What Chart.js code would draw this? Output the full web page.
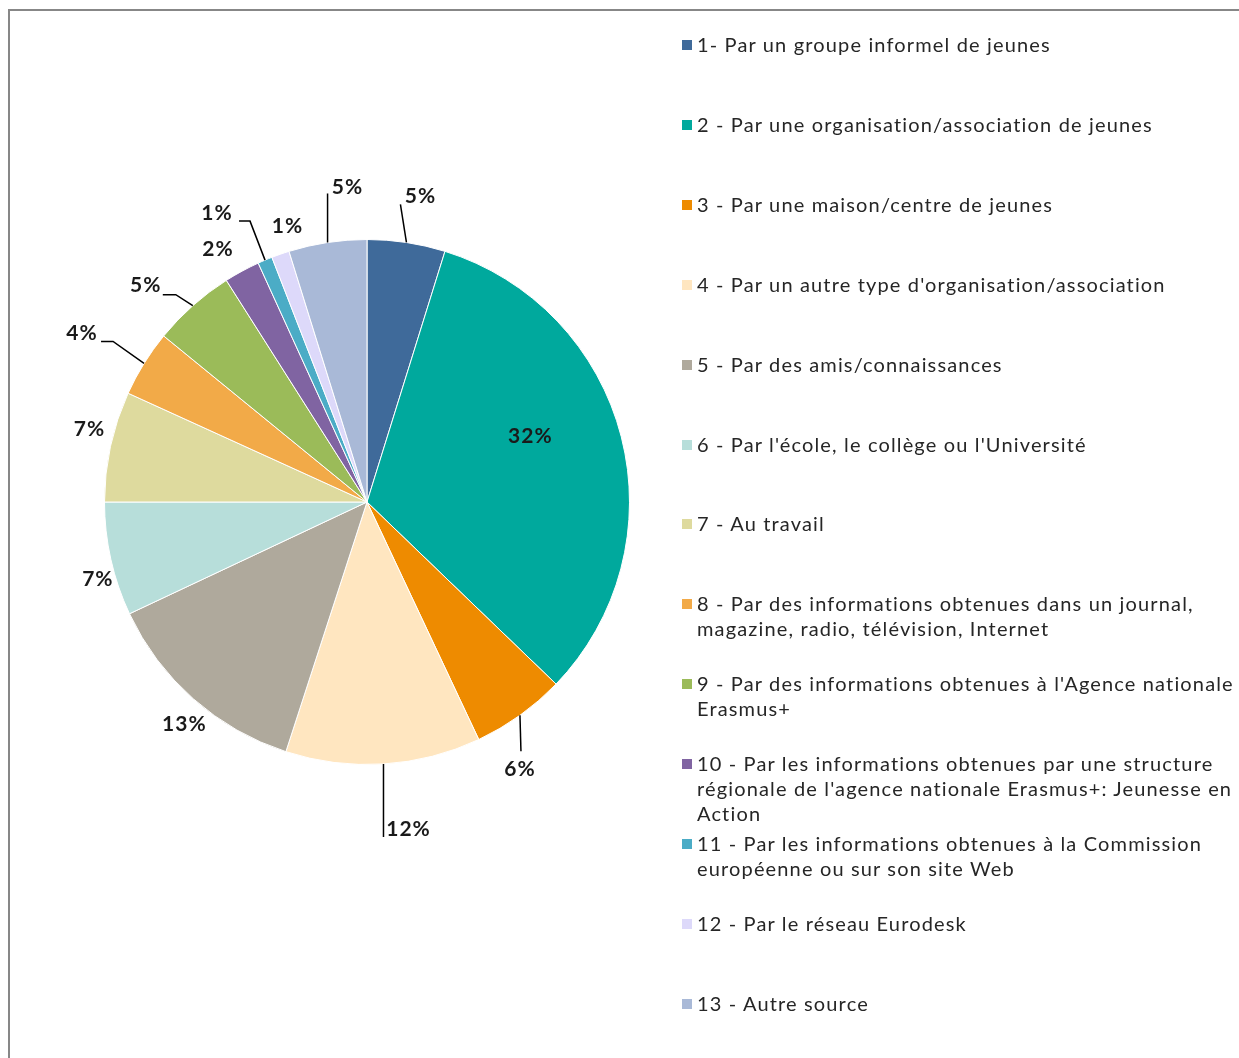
<!DOCTYPE html>
<html>
<head>
<meta charset="utf-8">
<script src="https://cdn.jsdelivr.net/npm/chart.js@4"></script>
<style>
  body { margin: 0; background: #fff; font-family: Lato, "Open Sans", sans-serif; }
  #frame { position: absolute; left: 8px; top: 9px; width: 1231px; height: 1049px;
           border-top: 2px solid #878787; border-left: 2px solid #878787; }
  #wrap { position: absolute; left: 0; top: 0; width: 1239px; height: 1058px; }
  #legend { position: absolute; left: 0; top: 0; }
  .item { position: absolute; left: 682px; color: #262626; font-size: 20px; line-height: 25px;
          letter-spacing: 1.15px; white-space: nowrap; }
  .sw { position: absolute; left: 0; top: 8px; width: 10px; height: 10px; }
  .txt { margin-left: 15px; }
</style>
</head>
<body>
<div id="frame"></div>
<div id="wrap"><canvas id="pie" width="1239" height="1058"></canvas></div>
<div id="legend"></div>
<script>
// categories (each line of a legend entry)
const categories = [
  ['1- Par un groupe informel de jeunes'],
  ['2 - Par une organisation/association de jeunes'],
  ['3 - Par une maison/centre de jeunes'],
  ["4 - Par un autre type d'organisation/association"],
  ['5 - Par des amis/connaissances'],
  ["6 - Par l'école, le collège ou l'Université"],
  ['7 - Au travail'],
  ['8 - Par des informations obtenues dans un journal,', 'magazine, radio, télévision, Internet'],
  ["9 - Par des informations obtenues à l'Agence nationale", 'Erasmus+'],
  ['10 - Par les informations obtenues par une structure', "régionale de l'agence nationale Erasmus+: Jeunesse en", 'Action'],
  ['11 - Par les informations obtenues à la Commission', 'européenne ou sur son site Web'],
  ['12 - Par le réseau Eurodesk'],
  ['13 - Autre source']
];
// share of answers, %
const shares = [4.8, 32.4, 5.8, 12.0, 13.0, 7.0, 6.8, 4.1, 5.1, 2.2, 0.9, 1.1, 4.8];
const colors = ['#3F6A9A', '#00A99D', '#EE8B00', '#FFE6C0', '#AFA99C', '#B7DEDA', '#DEDA9E',
                '#F2AA48', '#9BBB59', '#8064A2', '#4BACC6', '#DDD9FA', '#A9B9D7'];

// label placement relative to the middle of each slice's outer edge; leader points likewise
const labelPlace = [
  { dx: 14, dy: -46, leader: [[-6, -38]] },
  { inside: 0.67, dx: -7, dy: -22 },
  { dx: 0, dy: 54, leader: [[1, 36]] },
  { dx: 25, dy: 65, leader: [[0, 73]] },
  { dx: -9, dy: 25 },
  { dx: -13, dy: 20 },
  { dx: -21, dy: -17 },
  { dx: -62, dy: -30, leader: [[-31, -22], [-43, -22]] },
  { dx: -47, dy: -20, leader: [[-17, -11], [-30, -11]] },
  { dx: -24, dy: -22 },
  { dx: -48, dy: -47, leader: [[-15, -39], [-26, -39]] },
  { dx: 7, dy: -28 },
  { dx: 20, dy: -55, leader: [[0, -49]] }
];

const pieLabels = {
  id: 'pieLabels',
  afterDatasetsDraw(chart) {
    const ctx = chart.ctx;
    const meta = chart.getDatasetMeta(0);
    const total = shares.reduce((a, b) => a + b, 0);
    ctx.save();
    ctx.font = 'bold 21px Lato, "Open Sans", sans-serif';
    ctx.letterSpacing = '1px';
    ctx.fillStyle = '#1a1a1a';
    ctx.strokeStyle = '#000';
    ctx.lineWidth = 1.5;
    ctx.textAlign = 'center';
    ctx.textBaseline = 'middle';
    meta.data.forEach((arc, i) => {
      const p = arc.getProps(['x', 'y', 'startAngle', 'endAngle', 'outerRadius'], true);
      const mid = (p.startAngle + p.endAngle) / 2;
      const txt = Math.round(shares[i] / total * 100) + '%';
      const pl = labelPlace[i];
      if (pl.inside) {
        ctx.fillText(txt, p.x + Math.cos(mid) * p.outerRadius * pl.inside + pl.dx,
                          p.y + Math.sin(mid) * p.outerRadius * pl.inside + pl.dy);
        return;
      }
      const ex = p.x + Math.cos(mid) * p.outerRadius;
      const ey = p.y + Math.sin(mid) * p.outerRadius;
      if (pl.leader) {
        ctx.beginPath();
        ctx.moveTo(ex, ey);
        pl.leader.forEach(q => ctx.lineTo(ex + q[0], ey + q[1]));
        ctx.stroke();
      }
      ctx.fillText(txt, ex + pl.dx, ey + pl.dy);
    });
    ctx.restore();
  }
};

const chart = new Chart(document.getElementById('pie'), {
  type: 'pie',
  data: {
    labels: categories,
    datasets: [{
      data: shares,
      backgroundColor: colors,
      borderColor: '#ffffff',
      borderWidth: 1
    }]
  },
  options: {
    responsive: false,
    animation: false,
    layout: { padding: { left: 104, top: 239, right: 609, bottom: 293 } },
    plugins: {
      legend: { display: false },
      tooltip: { enabled: false }
    }
  },
  plugins: [pieLabels]
});

// legend on the right, built from the chart data
const legend = document.getElementById('legend');
chart.data.labels.forEach((lines, i) => {
  const item = document.createElement('div');
  item.className = 'item';
  item.style.top = (32 + i * 79.9) + 'px';
  const sw = document.createElement('div');
  sw.className = 'sw';
  sw.style.background = chart.data.datasets[0].backgroundColor[i];
  const t = document.createElement('div');
  t.className = 'txt';
  t.innerHTML = lines.map(l => l.replace(/&/g, '&amp;').replace(/</g, '&lt;')).join('<br>');
  item.appendChild(sw);
  item.appendChild(t);
  legend.appendChild(item);
});
</script>
</body>
</html>
